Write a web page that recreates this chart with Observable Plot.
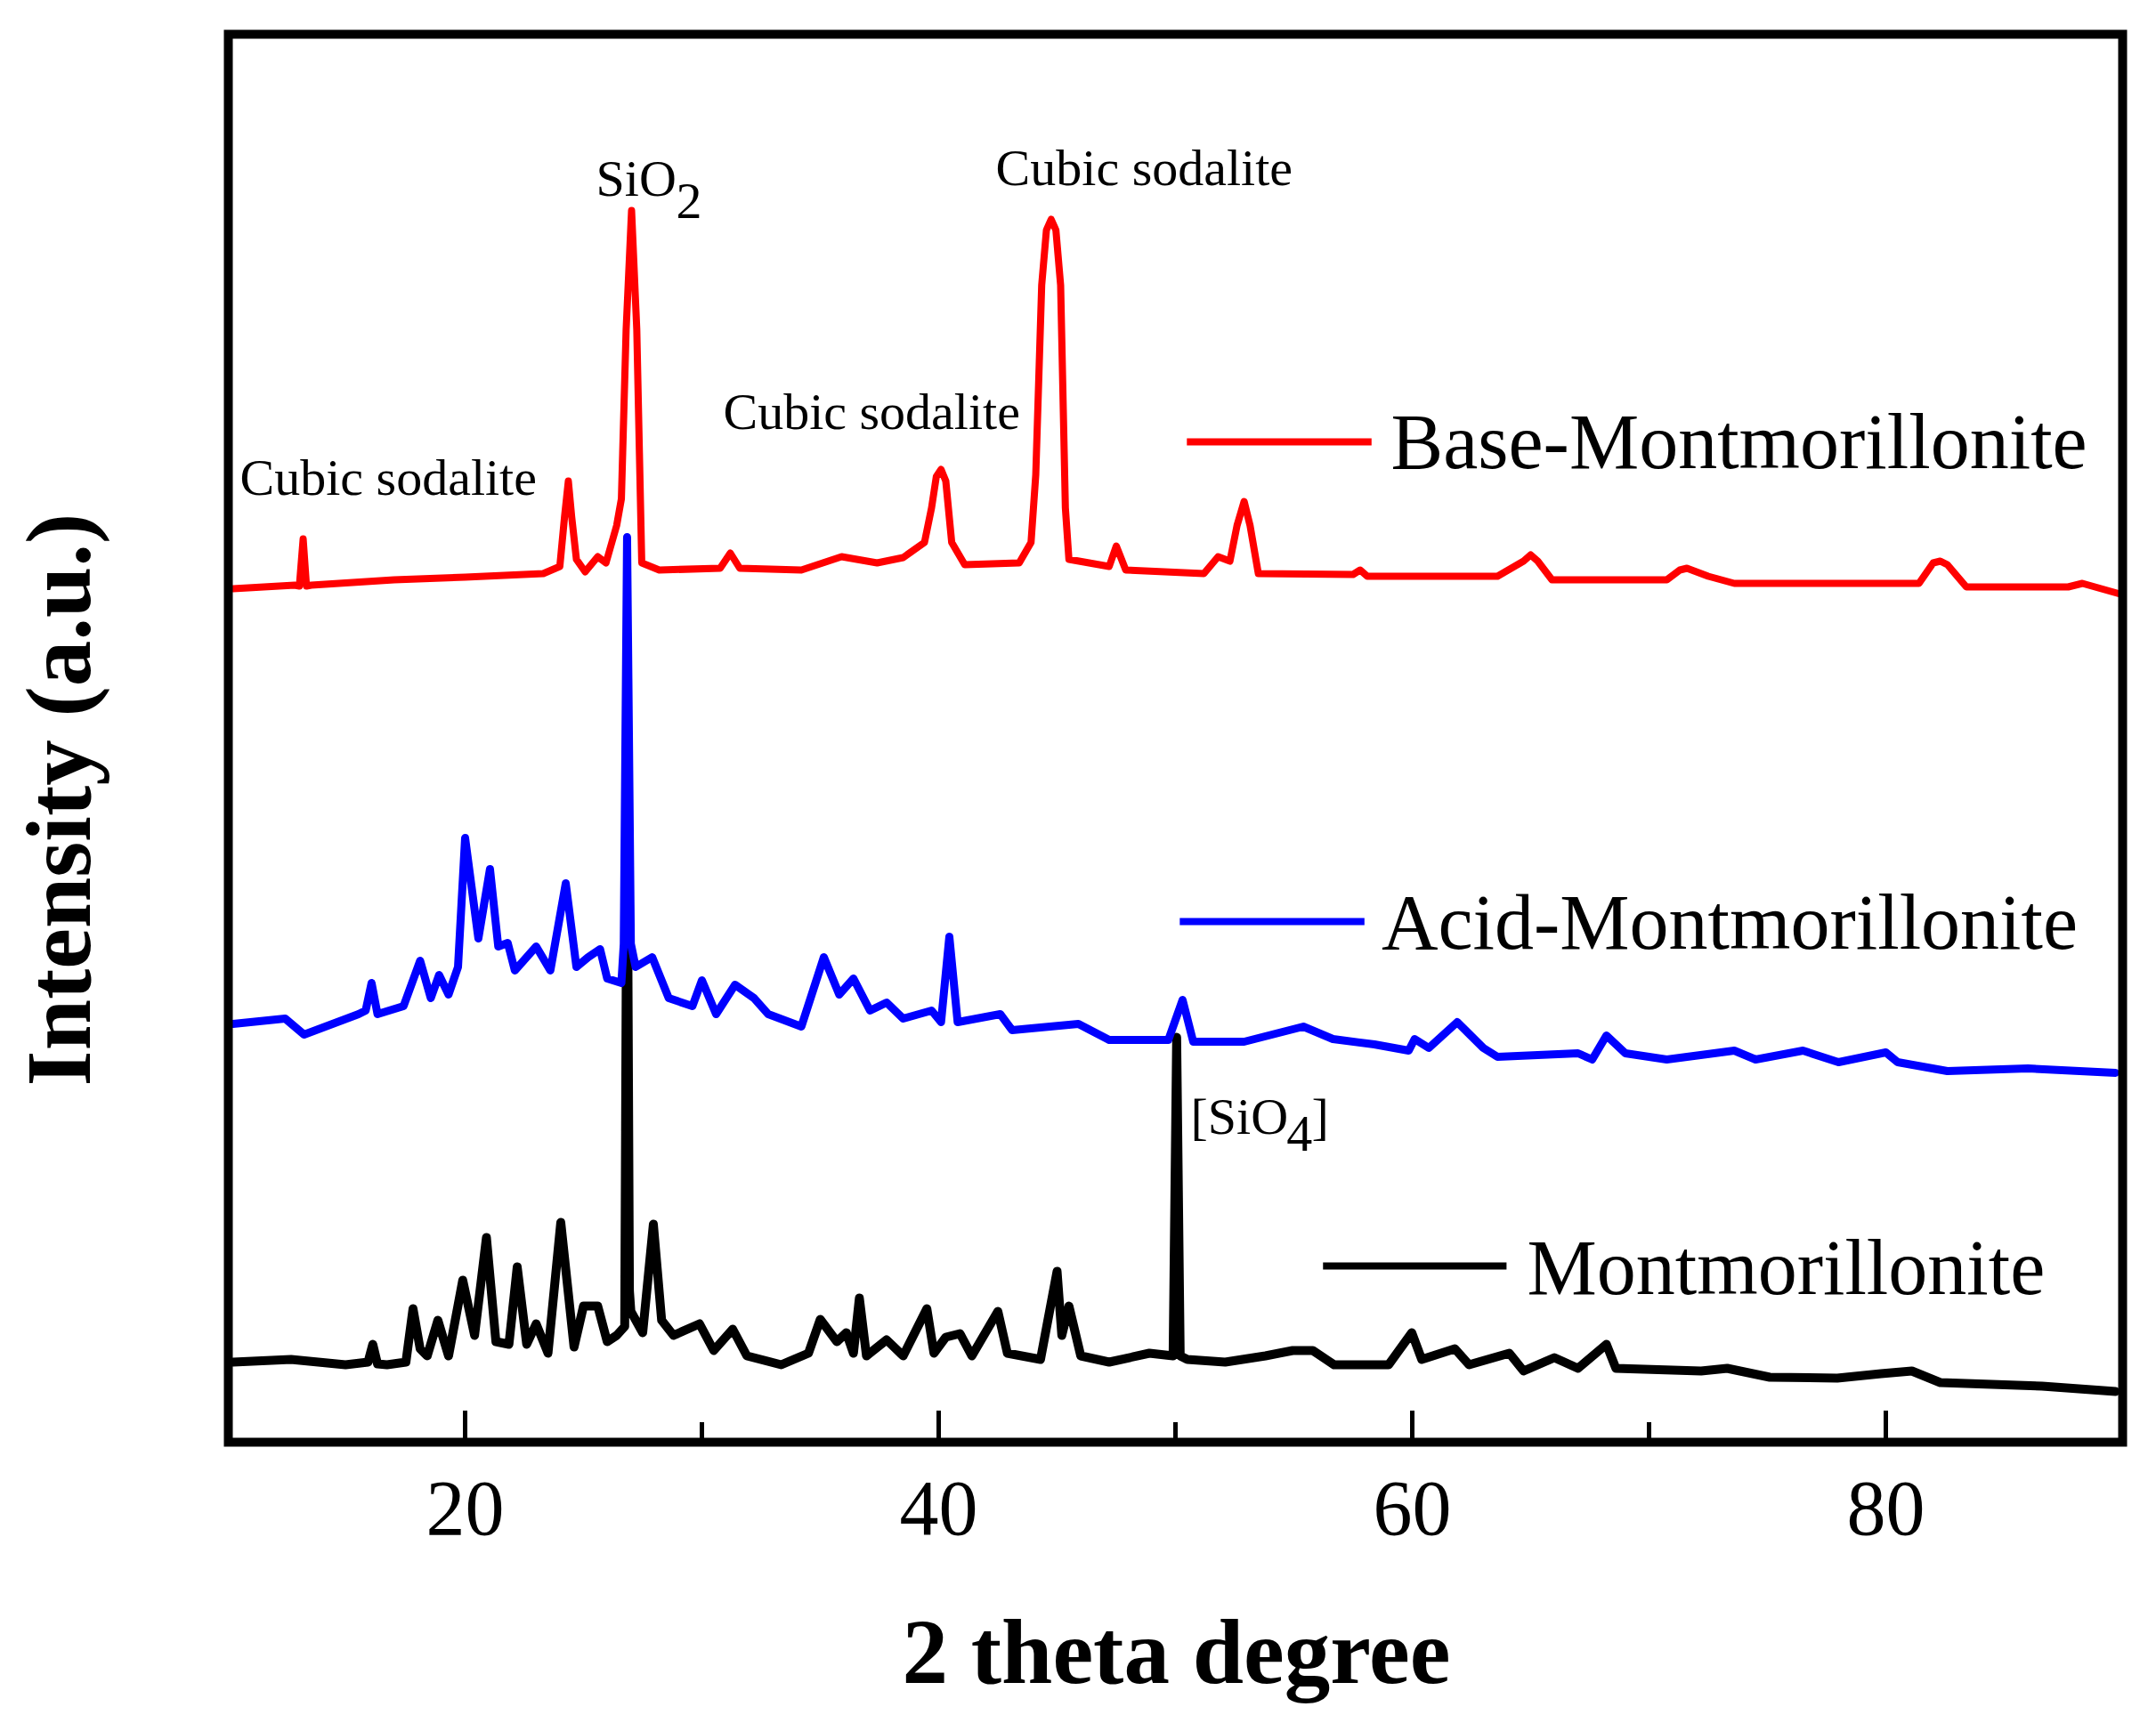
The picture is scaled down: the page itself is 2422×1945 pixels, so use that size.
<!DOCTYPE html>
<html>
<head>
<meta charset="utf-8">
<script src="https://cdn.jsdelivr.net/npm/d3@7"></script>
<script src="https://cdn.jsdelivr.net/npm/@observablehq/plot@0.6"></script>
<style>
  html, body { margin: 0; padding: 0; background: #fff; }
  #chart svg { display: block; }
</style>
</head>
<body>
<div id="chart"></div>
<script>
// ---- Data: 2θ (degree) vs intensity (a.u.) ----
const baseMont = [
  [10.2,959],[12.8,963],[13.0,962],[13.16,1015],[13.3,962],[13.5,963],[17,969],[20,972],[23.3,976],
  [24.0,984],[24.2,1040],[24.36,1080],[24.5,1040],[24.7,992],[25.07,978],[25.6,995],[25.95,988],[26.4,1030],
  [26.6,1060],[26.8,1250],[27.03,1384],[27.25,1250],[27.46,988],[28.2,980],[30.77,982],[31.2,999],[31.6,982],
  [34.2,980],[35.9,995],[37.4,988],[38.5,994],[39.4,1011],[39.7,1050],[39.9,1085],[40.1,1093],[40.3,1080],
  [40.55,1011],[41.1,986],[43.4,988],[43.9,1011],[44.1,1087],[44.35,1300],[44.55,1362],[44.75,1374],[44.95,1362],
  [45.15,1300],[45.35,1050],[45.5,992],[47.2,984],[47.5,1007],[47.9,980],[51.2,976],[51.8,995],[52.3,990],
  [52.6,1030],[52.9,1057],[53.15,1030],[53.5,976],[57.5,975],[57.8,980],[58.1,973],[63.6,973],[64.7,990],
  [65.0,997],[65.3,990],[65.9,969],[70.75,969],[71.3,980],[71.6,982],[72.0,978],[72.5,973],[73.6,965],
  [81.4,965],[82.0,988],[82.3,990],[82.6,986],[83.4,961],[87.7,961],[88.3,965],[89.9,953]
];
const acidMont = [
  [10.2,470],[12.4,476],[13.2,458],[15.5,481],[15.8,485],[16.05,516],[16.3,481],[17.4,490],[18.1,541],
  [18.55,499],[18.9,525],[19.3,503],[19.7,534],[20.0,679],[20.56,566],[21.05,644],[21.4,557],[21.8,561],
  [22.1,530],[23.0,557],[23.6,530],[24.25,628],[24.7,534],[25.2,545],[25.7,554],[26.0,521],[26.6,516],
  [26.7,560],[26.84,1017],[27.0,560],[27.2,534],[27.9,545],[28.6,499],[29.6,490],[30.0,519],[30.6,481],
  [31.4,514],[32.2,499],[32.8,481],[34.2,467],[35.15,545],[35.8,503],[36.4,521],[37.1,485],[37.8,494],
  [38.5,476],[39.7,485],[40.1,472],[40.45,568],[40.8,472],[42.6,481],[43.1,463],[45.9,470],[47.2,452],
  [49.7,452],[50.3,497],[50.75,450],[52.9,450],[55.4,467],[56.65,453],[58.4,447],[59.85,440],[60.1,453],
  [60.7,443],[61.9,472],[63.0,443],[63.6,433],[67.0,437],[67.6,430],[68.2,457],[69.0,437],[70.75,430],
  [73.6,440],[74.5,430],[76.5,440],[78.0,427],[80.0,438],[80.5,427],[82.6,417],[86.0,420],[89.7,415]
];
const mont = [
  [10.2,90],[12.65,93],[14.95,87],[15.9,90],[16.1,110],[16.3,88],[16.7,87],[17.5,90],[17.8,150],[18.1,105],
  [18.4,97],[18.85,137],[19.3,97],[19.9,182],[20.4,120],[20.9,230],[21.3,113],[21.85,110],[22.2,197],
  [22.6,110],[23.0,133],[23.5,100],[24.04,247],[24.6,107],[25.0,153],[25.6,153],[26.0,113],[26.4,120],
  [26.74,130],[26.84,742],[26.94,170],[27.0,147],[27.5,123],[27.95,245],[28.3,137],[28.8,120],[29.9,133],
  [30.5,103],[31.3,127],[31.9,97],[33.35,87],[34.5,100],[35.0,138],[35.7,113],[36.1,123],[36.4,100],
  [36.65,162],[36.95,97],[37.8,115],[38.5,97],[39.5,150],[39.8,100],[40.3,118],[40.9,122],[41.4,97],
  [42.5,147],[42.9,100],[44.3,93],[45.0,192],[45.2,120],[45.5,153],[46.0,97],[47.2,90],[48.9,100],
  [49.9,97],[50.05,455],[50.2,97],[50.5,93],[52.1,90],[53.8,97],[54.95,103],[55.8,103],[56.7,87],[59.0,87],
  [59.98,123],[60.4,93],[61.8,105],[62.4,87],[64.1,100],[64.7,80],[66.0,95],[67.0,83],[68.2,110],
  [68.6,83],[72.2,80],[73.3,83],[75.1,73],[77.95,72],[79.8,77],[81.1,80],[82.3,67],[86.6,63],[89.7,57]
];
const seriesNames = ["Montmorillonite", "Base-Montmorillonite", "Acid-Montmorillonite"];
const seriesColors = ["#000000", "#ff0000", "#0000ff"];
const seriesData = [mont, baseMont, acidMont];
const majorTicks = [20, 40, 60, 80];
const minorTicks = [30, 50, 70];
const xLabel = "2 theta degree";
const yLabel = "Intensity (a.u.)";
// peak annotations: text, 2θ, intensity at text baseline
const annoText = ["Cubic sodalite", "Cubic sodalite", "Cubic sodalite", "SiO", "2", "[SiO", "4", "]"];
const annoX    = [10.49, 30.90, 42.41, 25.53, 28.91, 50.64, 54.69, 55.75];
const annoY    = [1065, 1139, 1413, 1401, 1376, 347, 328, 347];

// ---- Build ----
const rows = seriesData.flatMap((arr, i) => arr.map(([x, y]) => ({series: seriesNames[i], x, y})));
const lineWidths = [10, 8, 9];
const lines = seriesNames.map((name, i) =>
  Plot.line(rows.filter(d => d.series === name), {
    x: "x", y: "y", stroke: seriesColors[i],
    strokeWidth: lineWidths[i], strokeLinejoin: "round", strokeLinecap: "round", curve: "linear"
  })
);

// legend layout (in data coordinates of the panel)
const legend = [
  {name: "Base-Montmorillonite", x1: 50.5, x2: 58.3, y: 1124, tx: 59.1, ty: 1095, color: "#ff0000"},
  {name: "Acid-Montmorillonite", x1: 50.2, x2: 58.0, y: 585, tx: 58.7, ty: 555, color: "#0000ff"},
  {name: "Montmorillonite", x1: 56.25, x2: 64.0, y: 198, tx: 64.85, ty: 167, color: "#000000"}
];

const annos = annoText.map((t, i) => ({t, x: annoX[i], y: annoY[i]}));
const serif = "'Liberation Serif', 'Times New Roman', serif";

const chart = Plot.plot({
  width: 2422,
  height: 1945,
  marginLeft: 256,
  marginRight: 38,
  marginTop: 38,
  marginBottom: 325,
  x: {domain: [10, 90], axis: null},
  y: {domain: [0, 1582], axis: null},
  style: {fontFamily: serif, background: "#fff", color: "#000", overflow: "visible"},
  marks: [
    ...lines,
    Plot.ruleY(legend, {y: "y", x1: "x1", x2: "x2", stroke: "color", strokeWidth: 8}),
    Plot.text(legend, {x: "tx", y: "ty", text: "name", textAnchor: "start", lineAnchor: "bottom", fontSize: 88, fill: "#000"}),
    Plot.text(annos, {x: "x", y: "y", text: "t", textAnchor: "start", lineAnchor: "bottom", fontSize: 58, fill: "#000"}),
    Plot.tickX(majorTicks, {x: d => d, insetTop: 1582 - 35, stroke: "#000", strokeWidth: 5}),
    Plot.tickX(minorTicks, {x: d => d, insetTop: 1582 - 22, stroke: "#000", strokeWidth: 5}),
    Plot.frame({stroke: "#000", strokeWidth: 10}),
    Plot.text(majorTicks, {x: d => d, text: d => String(d), frameAnchor: "bottom", dy: 103, lineAnchor: "bottom", fontSize: 88, fill: "#000"}),
    Plot.text([xLabel], {text: d => d, frameAnchor: "bottom", dx: 1, dy: 270, textAnchor: "middle", lineAnchor: "bottom", fontSize: 103, fontWeight: "bold", fill: "#000"}),
    Plot.text([yLabel], {text: d => d, frameAnchor: "left", dx: -156, dy: 69, rotate: -90, textAnchor: "middle", lineAnchor: "bottom", fontSize: 103, fontWeight: "bold", fill: "#000"})
  ]
});
document.getElementById("chart").appendChild(chart);
</script>
</body>
</html>
